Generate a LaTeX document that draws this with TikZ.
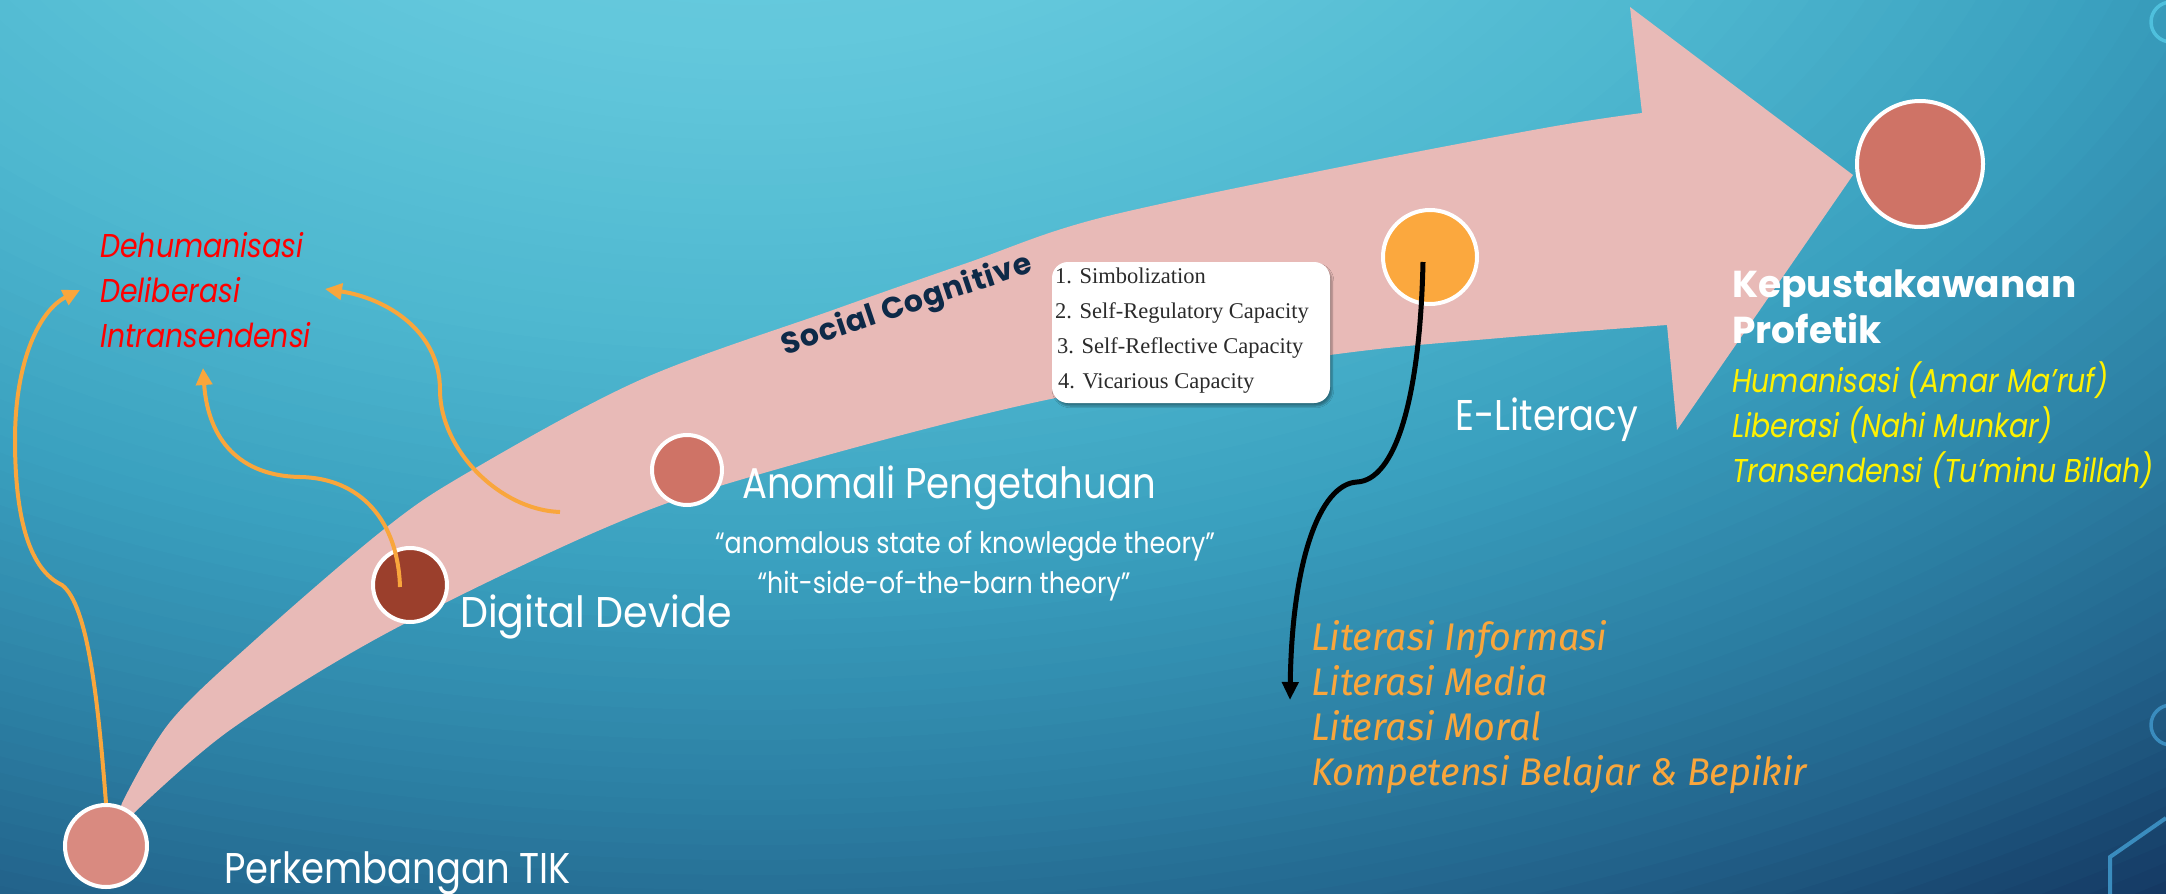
\documentclass[tikz,border=0pt]{standalone}
\usepackage{fontspec}
\usetikzlibrary{arrows.meta,shadows.blur}

% type faces
\newfontfamily\twfont[FakeStretch=0.86]{Poppins}
\newfontfamily\titlefont{Poppins}
\newfontfamily\socfont[LetterSpace=3]{Poppins}
\newfontfamily\dinfont[FakeStretch=0.98]{Fira Sans}
\newfontfamily\capfont{Liberation Serif}

% palette
\definecolor{bgA}{HTML}{6BCDE0}
\definecolor{bgB}{HTML}{63C8DC}
\definecolor{bgC}{HTML}{4EB7CF}
\definecolor{bgD}{HTML}{3AA0BF}
\definecolor{bgE}{HTML}{2C80A4}
\definecolor{bgF}{HTML}{22628A}
\definecolor{bgG}{HTML}{0E2550}
\definecolor{arrowpink}{HTML}{E8BAB7}
\definecolor{dotsalmon}{HTML}{D98A80}
\definecolor{dotrust}{HTML}{9B3F2C}
\definecolor{dotcoral}{HTML}{CF7366}
\definecolor{dotorange}{HTML}{FBA83E}
\definecolor{curveorange}{HTML}{F9A63C}
\definecolor{navytext}{HTML}{0E2A48}
\definecolor{boxtext}{HTML}{2B2B2B}
\definecolor{decocyan}{HTML}{4FC0DD}
\definecolor{decoblue}{HTML}{3A8CBE}

\begin{document}
\begin{tikzpicture}[x=1pt,y=-1pt,
  dot/.style={circle, draw=white, line width=4pt, inner sep=0pt},
  stage/.style={text=white, inner sep=0pt, anchor=base west,
    font=\twfont\fontsize{43}{43}\selectfont},
  quote/.style={text=white, inner sep=0pt, anchor=base,
    font=\twfont\fontsize{29.5}{29.5}\selectfont},
  warn/.style={text=red, inner sep=0pt, anchor=base west,
    font=\twfont\itshape\fontsize{33}{33}\selectfont},
  value/.style={text=yellow, inner sep=0pt, anchor=base west,
    font=\twfont\itshape\fontsize{33}{33}\selectfont},
  title/.style={text=white, inner sep=0pt, anchor=base west,
    font=\titlefont\bfseries\fontsize{37.5}{37.5}\selectfont},
  lit/.style={text=curveorange, inner sep=0pt, anchor=base west,
    font=\dinfont\itshape\fontsize{38.5}{38.5}\selectfont},
  capline/.style={text=boxtext, inner sep=0pt, anchor=base west,
    font=\capfont\fontsize{22.5}{22.5}\selectfont},
  capbox/.style={fill=white, rounded corners=16pt, minimum width=278pt,
    minimum height=141pt, inner sep=0pt,
    blur shadow={shadow xshift=2pt, shadow yshift=-3pt, shadow opacity=35, shadow blur steps=6}},
  flow/.style={draw=curveorange, line width=4pt,
    -{Triangle[length=17pt,width=16pt]}},
  lead/.style={draw=black, line width=5pt,
    -{Triangle[length=18pt,width=16pt]}}
]
\useasboundingbox (0,0) rectangle (2166,894);

% background: concentric elliptical bands from dark navy to light cyan
\begin{scope}
  \clip (0,0) rectangle (2166,894);
  \foreach \ta/\tb/\ca/\cb in {0.82/1.00/bgF/bgG, 0.70/0.82/bgE/bgF,
      0.55/0.70/bgD/bgE, 0.40/0.55/bgC/bgD, 0.20/0.40/bgB/bgC, 0.00/0.20/bgA/bgB}{
    \pgfmathtruncatemacro\nsteps{round((\tb-\ta)*100)}
    \foreach \j in {1,...,\nsteps}{
      \pgfmathsetmacro\tt{\tb-(\j-1)*0.01}
      \pgfmathtruncatemacro\pp{round((\tt-\ta)/(\tb-\ta)*100)}
      \fill[\cb!\pp!\ca] (750,-250) ellipse [x radius={2600*\tt}, y radius={1500*\tt}];
    }
  }
\end{scope}

% corner decorations
\draw[decocyan, line width=3.5pt] (2171,22) circle (20);
\draw[decoblue, line width=3.5pt] (2171,725) circle (20);
\draw[decoblue, line width=4pt] (2166,818) -- (2110,857) -- (2110,894);

% the large curved arrow
\fill[arrowpink]
  plot[smooth, tension=0.55] coordinates {(122,803) (170,722) (255,640) (383,530)
     (467,473) (640,380) (833,310) (967,263) (1100,218) (1350,165) (1550,127) (1642,113)}
  -- (1630,7) -- (1853,175) -- (1677,430) -- (1667,325)
  -- plot[smooth, tension=0.55] coordinates {(1667,325) (1500,338) (1330,355) (1046,400)
     (750,477) (600,530) (385,634) (230,730) (135,812)}
  -- (112,835) -- cycle;

% stages
\node[dot, fill=dotsalmon, minimum size=82pt] (perk) at (106,846) {};
\node[dot, fill=dotrust,   minimum size=74pt] (dig)  at (410,585) {};
\node[dot, fill=dotcoral,  minimum size=70pt] (anom) at (687,470) {};
\node[dot, fill=dotorange, minimum size=94pt] (elit) at (1430,257) {};
\node[dot, fill=dotcoral,  minimum size=126pt] (kep) at (1920,164) {};

\node[stage] (perkl) at (224,883) {Perkembangan TIK};
\node[stage, xscale=1.07] (digl) at (460,627) {Digital Devide};
\node[stage] (anoml) at (742,498) {Anomali Pengetahuan};
\node[stage] (elitl) at (1455,430) {E-Literacy};

\node[quote] (q1) at (965,553) {“anomalous state of knowlegde theory”};
\node[quote] (q2) at (944,593) {“hit-side-of-the-barn theory”};

% negative effects
\node[warn] (dehum)  at (100,257) {Dehumanisasi};
\node[warn] (delib)  at (100,302) {Deliberasi};
\node[warn] (intran) at (100,347) {Intransendensi};

% prophetic librarianship
\node[title] (kepl) at (1732,297) {Kepustakawanan};
\node[title] (prof) at (1732,343) {Profetik};
\node[value] (hum) at (1732,392) {Humanisasi (Amar Ma’ruf)};
\node[value] (lib) at (1732,437) {Liberasi (Nahi Munkar)};
\node[value] (tra) at (1732,482) {Transendensi (Tu’minu Billah)};

% literacy components
\node[lit] (li1) at (1311,650) {Literasi Informasi};
\node[lit] (li2) at (1311,695) {Literasi Media};
\node[lit] (li3) at (1311,740) {Literasi Moral};
\node[lit] (li4) at (1311,785) {Kompetensi Belajar \& Bepikir};

% social cognitive label and its capacities
\node[text=navytext, rotate=18.5, inner sep=0pt,
  font=\socfont\bfseries\fontsize{30}{30}\selectfont] (soc) at (907,306) {Social Cognitive};
\node[capbox] (caps) at (1191,332.5) {};
\node[capline] (c1) at (1055,283) {1. Simbolization};
\node[capline] (c2) at (1055,318) {2. Self-Regulatory Capacity};
\node[capline] (c3) at (1057,353) {3. Self-Reflective Capacity};
\node[capline] (c4) at (1058,388) {4. Vicarious Capacity};

% connector ends
\coordinate (digstart) at (400,587);
\coordinate (tipA) at (80,290);
\coordinate (tipB) at (203,368);
\coordinate (tailC) at (560,512);
\coordinate (tipC) at (325,289);
\coordinate (elitstart) at (1423,262);
\coordinate (tipD) at (1290,700);

% orange connectors
\draw[flow] (perk.north) .. controls (98,700) and (88,605) .. (62,585)
  .. controls (30,570) and (15,520) .. (15,440)
  .. controls (15,360) and (40,310) .. (tipA);
\draw[flow] (digstart) .. controls (398,520) and (360,478) .. (300,477)
  .. controls (240,476) and (208,440) .. (tipB);
\draw[flow] (tailC) .. controls (500,510) and (440,450) .. (440,390)
  .. controls (440,330) and (385,298) .. (tipC);

% black connector
\draw[lead] (elitstart) .. controls (1420,400) and (1395,480) .. (1357,482)
  .. controls (1320,484) and (1292,560) .. (tipD);
\end{tikzpicture}
\end{document}
